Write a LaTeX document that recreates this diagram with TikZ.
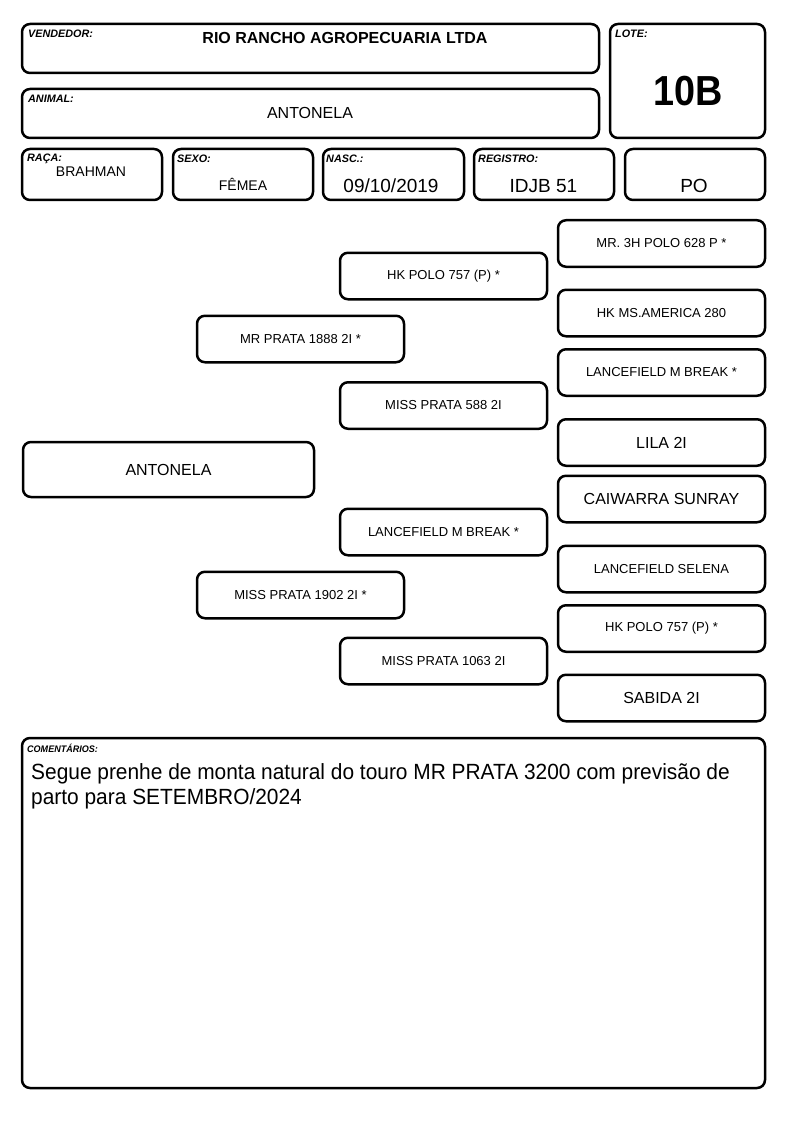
\documentclass[tikz,border=0pt]{standalone}
\usepackage{fontspec}
\setmainfont{Liberation Sans}
\newfontfamily\estreita[FakeStretch=0.95]{Liberation Sans}
\newfontfamily\lotefont[FakeStretch=0.9]{Liberation Sans}

\tikzset{
  caixa/.style={line width=2.5pt,rounded corners=8pt},
  rotulo/.style={anchor=north west,inner sep=0pt,font=\fontsize{10.8}{12}\selectfont\bfseries\itshape},
  animal/.style={draw,line width=2.5pt,rounded corners=8pt,minimum width=207pt,minimum height=46.5pt,inner sep=0pt,font=\fontsize{13}{15}\selectfont},
  grande/.style={font=\fontsize{16}{18}\selectfont},
  dado/.style={font=\fontsize{19}{21}\selectfont},
}

\begin{document}
\begin{tikzpicture}[x=1pt,y=-1pt]
\useasboundingbox (0,0) rectangle (794,1123);
% cabecalho
\draw[caixa] (22,24) rectangle (599,73);
\node[rotulo] (lbvend) at (28,30) {VENDEDOR:};
\node[font=\fontsize{16}{18}\selectfont\bfseries] (vend) at (345,38) {RIO RANCHO AGROPECUARIA LTDA};
\draw[caixa] (22,89) rectangle (599,138);
\node[rotulo] (lbanim) at (28,95) {ANIMAL:};
\node[grande] (anim) at (310,113) {ANTONELA};
\draw[caixa] (610,24) rectangle (765,138);
\node[rotulo] (lblote) at (615,30) {LOTE:};
\node[font=\fontsize{42}{44}\selectfont\lotefont\bfseries] (lote) at (688,91) {10B};
% linha de dados
\draw[caixa] (22,149) rectangle (162,200);
\node[rotulo] (lbraca) at (27,154) {RAÇA:};
\node[font=\fontsize{14}{16}\selectfont] (raca) at (91,172) {BRAHMAN};
\draw[caixa] (173,149) rectangle (313,200);
\node[rotulo] (lbsexo) at (177,155) {SEXO:};
\node[font=\fontsize{14}{16}\selectfont] (sexo) at (243,184) {FÊMEA};
\draw[caixa] (323,149) rectangle (464,200);
\node[rotulo] (lbnasc) at (326,155) {NASC.:};
\node[dado] (nasc) at (391,186) {09/10/2019};
\draw[caixa] (474,149) rectangle (614,200);
\node[rotulo] (lbreg) at (478,155) {REGISTRO:};
\node[dado] (reg) at (543.5,186) {IDJB 51};
\draw[caixa] (625,149) rectangle (765,200);
\node[dado] (po) at (694,186) {PO};
% genealogia
\node[animal,minimum width=291pt,minimum height=55pt,grande] (filha) at (168.5,469.5) {ANTONELA};
\node[animal] (pai) at (300.5,339) {MR PRATA 1888 2I *};
\node[animal] (mae) at (300.5,595) {MISS PRATA 1902 2I *};
\node[animal] (avopp) at (443.5,276) {HK POLO 757 (P) *};
\node[animal] (avopm) at (443.5,405.5) {MISS PRATA 588 2I};
\node[animal] (avomp) at (443.5,532) {LANCEFIELD M BREAK *};
\node[animal] (avomm) at (443.5,661) {MISS PRATA 1063 2I};
\node[animal] (bis1) at (661.5,243.5) {MR. 3H POLO 628 P *};
\node[animal] (bis2) at (661.5,313) {HK MS.AMERICA 280};
\node[animal] (bis3) at (661.5,372.5) {LANCEFIELD M BREAK *};
\node[animal,grande] (bis4) at (661.5,442.5) {LILA 2I};
\node[animal,grande] (bis5) at (661.5,499) {CAIWARRA SUNRAY};
\node[animal] (bis6) at (661.5,569) {LANCEFIELD SELENA};
\node[animal] (bis7) at (661.5,628.5) {HK POLO 757 (P) *};
\node[animal,grande] (bis8) at (661.5,698) {SABIDA 2I};
% comentarios
\draw[caixa] (22,738) rectangle (765,1088);
\node[rotulo,font=\fontsize{9.5}{11}\selectfont\bfseries\itshape\estreita] (lbcom) at (27,744) {COMENTÁRIOS:};
\node[anchor=north west,inner sep=0pt,align=left,font=\fontsize{22}{25}\selectfont\estreita] (com) at (31,763) {Segue prenhe de monta natural do touro MR PRATA 3200 com previsão de\\parto para SETEMBRO/2024};
\end{tikzpicture}
\end{document}
